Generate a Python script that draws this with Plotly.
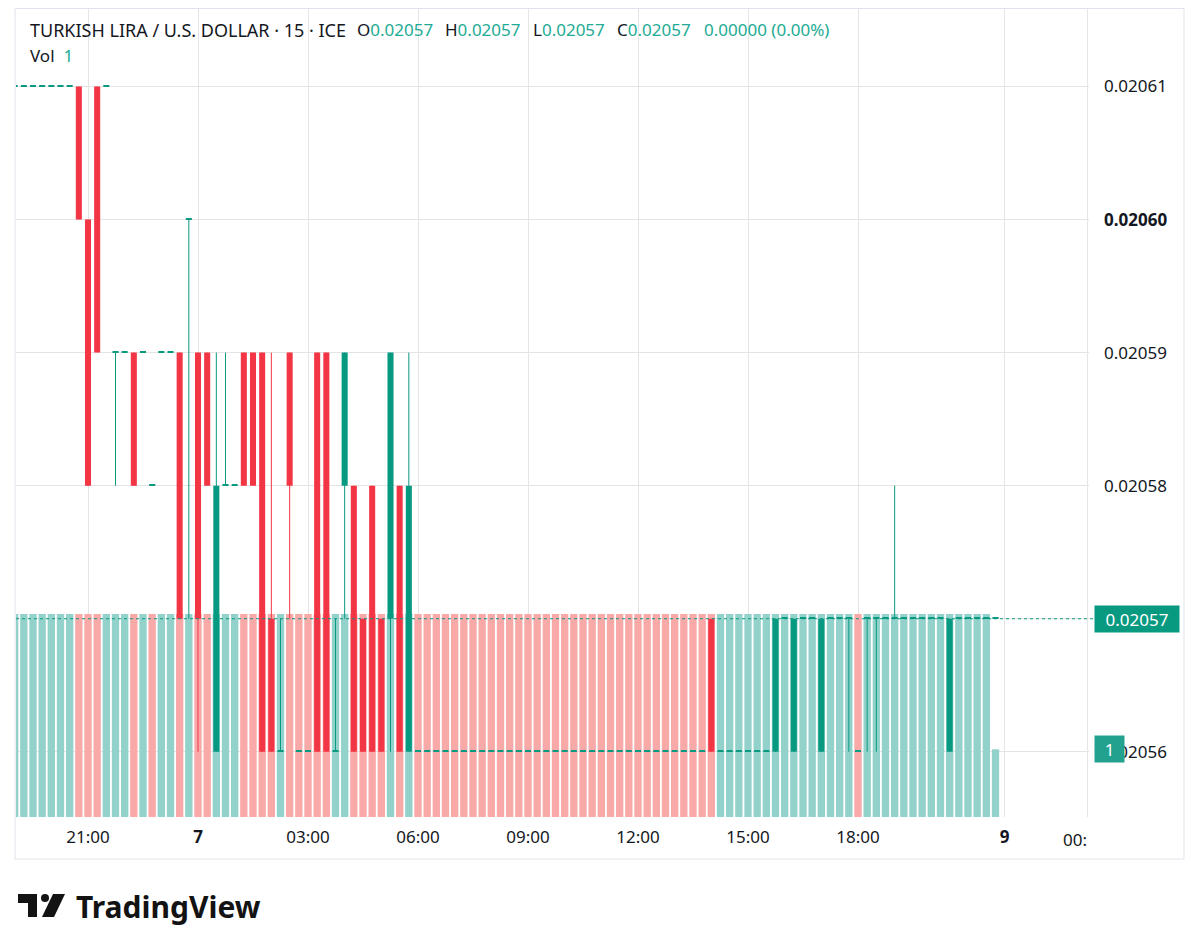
import plotly.graph_objects as go

# 15 minute bars, TRY/USD, from 19:00 (day 6) to 21:45 (day 7), 12 bars per row
opens = [
    0.02061, 0.02061, 0.02061, 0.02061, 0.02061, 0.02061, 0.02061, 0.02061, 0.02060, 0.02061, 0.02061, 0.02059,
    0.02059, 0.02059, 0.02059, 0.02058, 0.02059, 0.02059, 0.02059, 0.02060, 0.02059, 0.02059, 0.02056, 0.02058,
    0.02058, 0.02059, 0.02059, 0.02059, 0.02057, 0.02056, 0.02059, 0.02056, 0.02056, 0.02059, 0.02059, 0.02056,
    0.02058, 0.02058, 0.02057, 0.02058, 0.02057, 0.02057, 0.02058, 0.02056, 0.02056, 0.02056, 0.02056, 0.02056,
    0.02056, 0.02056, 0.02056, 0.02056, 0.02056, 0.02056, 0.02056, 0.02056, 0.02056, 0.02056, 0.02056, 0.02056,
    0.02056, 0.02056, 0.02056, 0.02056, 0.02056, 0.02056, 0.02056, 0.02056, 0.02056, 0.02056, 0.02056, 0.02056,
    0.02056, 0.02056, 0.02056, 0.02056, 0.02057, 0.02056, 0.02056, 0.02056, 0.02056, 0.02056, 0.02056, 0.02056,
    0.02057, 0.02056, 0.02057, 0.02057, 0.02056, 0.02057, 0.02057, 0.02057, 0.02056, 0.02057, 0.02057, 0.02057,
    0.02057, 0.02057, 0.02057, 0.02057, 0.02057, 0.02057, 0.02056, 0.02057, 0.02057, 0.02057, 0.02057, 0.02057,
]
highs = [
    0.02061, 0.02061, 0.02061, 0.02061, 0.02061, 0.02061, 0.02061, 0.02061, 0.02060, 0.02061, 0.02061, 0.02059,
    0.02059, 0.02059, 0.02059, 0.02058, 0.02059, 0.02059, 0.02059, 0.02060, 0.02059, 0.02059, 0.02059, 0.02059,
    0.02058, 0.02059, 0.02059, 0.02059, 0.02059, 0.02057, 0.02059, 0.02056, 0.02056, 0.02059, 0.02059, 0.02057,
    0.02059, 0.02058, 0.02057, 0.02058, 0.02057, 0.02059, 0.02058, 0.02059, 0.02056, 0.02056, 0.02056, 0.02056,
    0.02056, 0.02056, 0.02056, 0.02056, 0.02056, 0.02056, 0.02056, 0.02056, 0.02056, 0.02056, 0.02056, 0.02056,
    0.02056, 0.02056, 0.02056, 0.02056, 0.02056, 0.02056, 0.02056, 0.02056, 0.02056, 0.02056, 0.02056, 0.02056,
    0.02056, 0.02056, 0.02056, 0.02056, 0.02057, 0.02056, 0.02056, 0.02056, 0.02056, 0.02056, 0.02056, 0.02057,
    0.02057, 0.02057, 0.02057, 0.02057, 0.02057, 0.02057, 0.02057, 0.02057, 0.02056, 0.02057, 0.02057, 0.02057,
    0.02058, 0.02057, 0.02057, 0.02057, 0.02057, 0.02057, 0.02057, 0.02057, 0.02057, 0.02057, 0.02057, 0.02057,
]
lows = [
    0.02061, 0.02061, 0.02061, 0.02061, 0.02061, 0.02061, 0.02061, 0.02060, 0.02058, 0.02059, 0.02061, 0.02058,
    0.02059, 0.02058, 0.02059, 0.02058, 0.02059, 0.02059, 0.02057, 0.02057, 0.02056, 0.02058, 0.02056, 0.02058,
    0.02058, 0.02058, 0.02058, 0.02056, 0.02056, 0.02056, 0.02057, 0.02056, 0.02056, 0.02056, 0.02056, 0.02056,
    0.02057, 0.02056, 0.02056, 0.02056, 0.02056, 0.02056, 0.02056, 0.02056, 0.02056, 0.02056, 0.02056, 0.02056,
    0.02056, 0.02056, 0.02056, 0.02056, 0.02056, 0.02056, 0.02056, 0.02056, 0.02056, 0.02056, 0.02056, 0.02056,
    0.02056, 0.02056, 0.02056, 0.02056, 0.02056, 0.02056, 0.02056, 0.02056, 0.02056, 0.02056, 0.02056, 0.02056,
    0.02056, 0.02056, 0.02056, 0.02056, 0.02056, 0.02056, 0.02056, 0.02056, 0.02056, 0.02056, 0.02056, 0.02056,
    0.02057, 0.02056, 0.02057, 0.02057, 0.02056, 0.02057, 0.02057, 0.02056, 0.02056, 0.02056, 0.02056, 0.02057,
    0.02057, 0.02057, 0.02057, 0.02057, 0.02057, 0.02057, 0.02056, 0.02057, 0.02057, 0.02057, 0.02057, 0.02057,
]
closes = [
    0.02061, 0.02061, 0.02061, 0.02061, 0.02061, 0.02061, 0.02061, 0.02060, 0.02058, 0.02059, 0.02061, 0.02059,
    0.02059, 0.02058, 0.02059, 0.02058, 0.02059, 0.02059, 0.02057, 0.02060, 0.02057, 0.02058, 0.02058, 0.02058,
    0.02058, 0.02058, 0.02058, 0.02056, 0.02056, 0.02056, 0.02058, 0.02056, 0.02056, 0.02056, 0.02056, 0.02056,
    0.02059, 0.02056, 0.02056, 0.02056, 0.02056, 0.02059, 0.02056, 0.02058, 0.02056, 0.02056, 0.02056, 0.02056,
    0.02056, 0.02056, 0.02056, 0.02056, 0.02056, 0.02056, 0.02056, 0.02056, 0.02056, 0.02056, 0.02056, 0.02056,
    0.02056, 0.02056, 0.02056, 0.02056, 0.02056, 0.02056, 0.02056, 0.02056, 0.02056, 0.02056, 0.02056, 0.02056,
    0.02056, 0.02056, 0.02056, 0.02056, 0.02056, 0.02056, 0.02056, 0.02056, 0.02056, 0.02056, 0.02056, 0.02057,
    0.02057, 0.02057, 0.02057, 0.02057, 0.02057, 0.02057, 0.02057, 0.02057, 0.02056, 0.02057, 0.02057, 0.02057,
    0.02057, 0.02057, 0.02057, 0.02057, 0.02057, 0.02057, 0.02057, 0.02057, 0.02057, 0.02057, 0.02057, 0.02057,
]
volumes = [3] * 107 + [1]
# volume bar colour as shown (u = up, d = down), same rows as above
vol_dir = "".join([
    "uuuuuuuddduu",
    "ududuududduu",
    "uddddudddddu",
    "uddddududddd",
    "dddddddddddd",
    "dddddddddddd",
    "ddddduuuuuuu",
    "uuuuuuuuduuu",
    "uuuuuuuuuuuu",
])

# time axis (bar index -> label)
tick_pos = [8, 20, 32, 44, 56, 68, 80, 92, 108, 117]
tick_text = ["21:00", "<b>7</b>", "03:00", "06:00", "09:00", "12:00", "15:00", "18:00", "<b>9</b>", ""]
price_ticks = [0.02056, 0.02057, 0.02058, 0.02059, 0.02060, 0.02061]
price_text = ["0.02056", "0.02057", "0.02058", "0.02059", "<b>0.02060</b>", "0.02061"]
last_price = 0.02057
last_volume = 1

UP = "#089981"
DOWN = "#F23645"
VOL_UP = "#93D2CB"
VOL_DOWN = "#F8A9A8"
TXT = "#131722"
GRID = "#E4E4E4"
FONT = "Noto Sans"

# the page puts the figure 8px in from the window corner
OFF = 8
# plot area in window pixels
PL, PR, PT, PB = 16, 1089, 8, 817
Y_LO, Y_HI = 0.0205551, 0.0206159


def px_x(px):
    return (px - PL) / (PR - PL)


def px_y(py):
    return (PB - py) / (PB - PT)


bar_x = list(range(len(opens)))
doji_h = 1.3 * (Y_HI - Y_LO) / (PB - PT)

body_base, body_h, body_col = [], [], []
wick = {UP: ([], []), DOWN: ([], [])}
for i, (o, h, l, c) in enumerate(zip(opens, highs, lows, closes)):
    col = DOWN if c < o else UP
    body_base.append(min(o, c))
    body_h.append(max(abs(c - o), doji_h))
    body_col.append(col)
    if h > l:
        wick[col][0].extend([i, i, None])
        wick[col][1].extend([l, h, None])

vol_colors = [VOL_UP if d == "u" else VOL_DOWN for d in vol_dir]

fig = go.Figure()
fig.add_trace(go.Bar(x=bar_x, y=volumes, marker=dict(color=vol_colors, line=dict(width=0)),
                     width=0.8, yaxis="y", hoverinfo="skip"))
fig.add_trace(go.Bar(x=bar_x, base=body_base, y=body_h, marker=dict(color=body_col, line=dict(width=0)),
                     width=0.66, yaxis="y2", hoverinfo="skip"))
for col, (wx, wy) in wick.items():
    fig.add_trace(go.Scatter(x=wx, y=wy, mode="lines", line=dict(color=col, width=1),
                             yaxis="y2", hoverinfo="skip"))

fig.update_layout(
    width=1200, height=952,
    margin=dict(l=PL - OFF, r=1200 - (PR - OFF), t=PT - OFF, b=952 - (PB - OFF)),
    paper_bgcolor="white", plot_bgcolor="white",
    showlegend=False, barmode="overlay",
    font=dict(family=FONT, size=17, color=TXT),
    xaxis=dict(range=[(PL - 88) / 9.1667 + 8, (PR - 88) / 9.1667 + 8],
               tickvals=tick_pos, ticktext=tick_text, showgrid=True, gridcolor=GRID,
               zeroline=False, showline=False, ticks="", ticklabelstandoff=8,
               tickfont=dict(size=17, color=TXT)),
    yaxis=dict(range=[0, 11.95], visible=False, fixedrange=True),
    yaxis2=dict(overlaying="y", side="right", range=[Y_LO, Y_HI],
                tickvals=price_ticks, ticktext=price_text, showgrid=True, gridcolor=GRID,
                zeroline=False, showline=False, ticks="", ticklabelstandoff=14,
                tickfont=dict(size=17, color=TXT)),
)

# last price dotted line
fig.add_shape(type="line", xref="paper", yref="y2", x0=0, x1=px_x(1094),
              y0=last_price, y1=last_price, line=dict(color=UP, width=1, dash="dot"))
# outer frame of the chart card
fig.add_shape(type="rect", xref="paper", yref="paper", x0=px_x(15), x1=px_x(1184),
              y0=px_y(859), y1=px_y(8.5), line=dict(color="#E0E3EB", width=1))

ann = []
ann.append(dict(text="0.02057", x=px_x(1094), y=last_price, xref="paper", yref="y2",
                xanchor="left", yanchor="middle", showarrow=False, bgcolor=UP,
                font=dict(color="white", size=17), width=76, height=18, borderpad=4))
ann.append(dict(text=str(last_volume), x=px_x(1094), y=last_volume, xref="paper", yref="y",
                xanchor="left", yanchor="middle", showarrow=False, bgcolor="#22A28E",
                font=dict(color="white", size=17), width=21, height=18, borderpad=4))
ann.append(dict(text="00:", x=1.0, y=px_y(839), xref="paper", yref="paper",
                xanchor="right", yanchor="middle", showarrow=False, font=dict(size=17, color=TXT)))

# legend header
teal = '<span style="color:%s">%%s</span>' % "#22AB94"
ann.append(dict(text="TURKISH LIRA / U.S. DOLLAR · 15 · ICE", x=px_x(28), y=px_y(30),
                xref="paper", yref="paper", xanchor="left", yanchor="middle", showarrow=False,
                font=dict(size=18, color=TXT)))
head = [
    (355, "O" + teal % "0.02057"),
    (443, "H" + teal % "0.02057"),
    (531, "L" + teal % "0.02057"),
    (615, "C" + teal % "0.02057"),
    (702, teal % "0.00000 (0.00%)"),
]
for x, t in head:
    ann.append(dict(text=t, x=px_x(x), y=px_y(30), xref="paper", yref="paper",
                    xanchor="left", yanchor="middle", showarrow=False, font=dict(size=17, color=TXT)))
ann.append(dict(text="Vol&nbsp;&nbsp;" + teal % "1", x=px_x(28), y=px_y(56), xref="paper", yref="paper",
                xanchor="left", yanchor="middle", showarrow=False, font=dict(size=17, color=TXT)))

# TradingView wordmark
ann.append(dict(text="<b>TradingView</b>", x=px_x(74), y=px_y(906), xref="paper", yref="paper",
                xanchor="left", yanchor="middle", showarrow=False,
                font=dict(family=FONT, size=30, color="#131313")))
fig.update_layout(annotations=ann)

LOGO = "#131313"
fig.add_shape(type="rect", xref="paper", yref="paper", x0=px_x(18), x1=px_x(37),
              y0=px_y(903), y1=px_y(894), fillcolor=LOGO, line_width=0)
fig.add_shape(type="rect", xref="paper", yref="paper", x0=px_x(28), x1=px_x(37),
              y0=px_y(917), y1=px_y(894), fillcolor=LOGO, line_width=0)
fig.add_shape(type="circle", xref="paper", yref="paper", x0=px_x(41), x1=px_x(49),
              y0=px_y(902), y1=px_y(894), fillcolor=LOGO, line_width=0)
fig.add_shape(type="path", xref="paper", yref="paper", fillcolor=LOGO, line_width=0,
              path="M %f,%f L %f,%f L %f,%f L %f,%f Z" % (
                  px_x(53), px_y(894), px_x(65), px_y(894),
                  px_x(54), px_y(917), px_x(42), px_y(917)))

fig.write_html("out.html")
